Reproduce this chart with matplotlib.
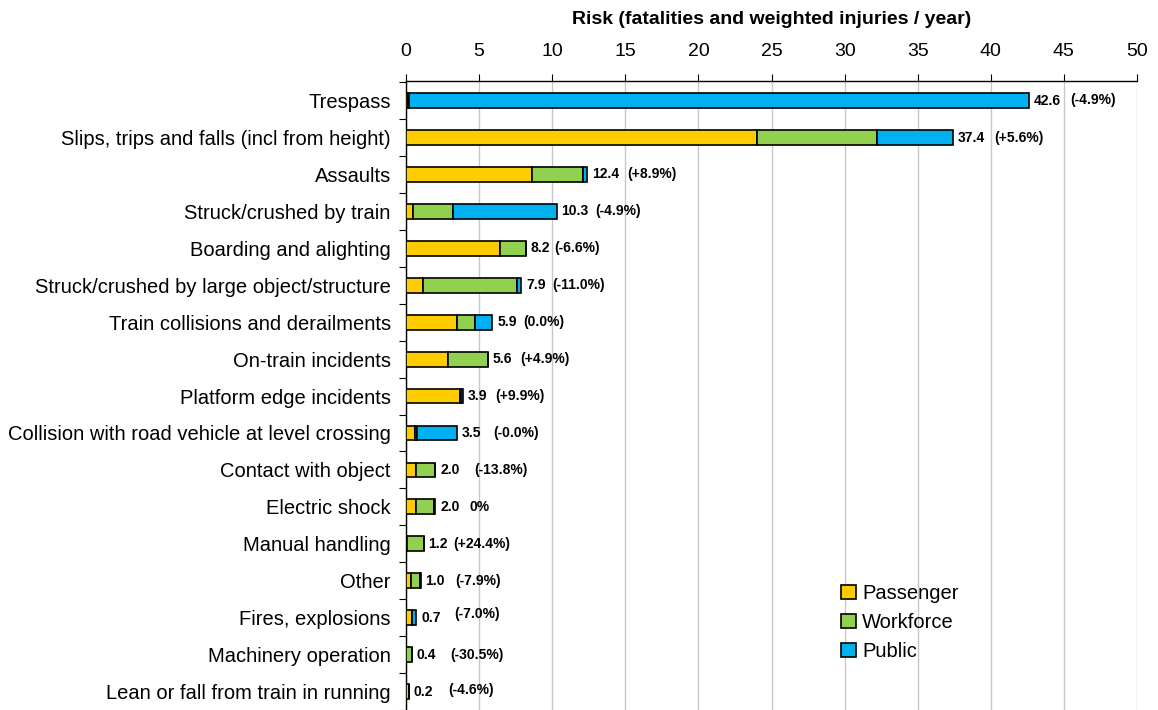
import matplotlib
matplotlib.use("Agg")
import matplotlib.pyplot as plt
from matplotlib.transforms import offset_copy

plt.rcParams['font.family'] = ['Liberation Sans', 'DejaVu Sans']

categories = [
    "Trespass",
    "Slips, trips and falls (incl from height)",
    "Assaults",
    "Struck/crushed by train",
    "Boarding and alighting",
    "Struck/crushed by large object/structure",
    "Train collisions and derailments",
    "On-train incidents",
    "Platform edge incidents",
    "Collision with road vehicle at level crossing",
    "Contact with object",
    "Electric shock",
    "Manual handling",
    "Other",
    "Fires, explosions",
    "Machinery operation",
    "Lean or fall from train in running",
]
passenger = [0.15, 24.0, 8.6, 0.45, 6.4, 1.15, 3.5, 2.85, 3.7, 0.6, 0.68, 0.66, 0.05, 0.35, 0.38, 0.0, 0.2]
workforce = [0.05, 8.2, 3.5, 2.75, 1.8, 6.45, 1.25, 2.75, 0.05, 0.17, 1.32, 1.28, 1.15, 0.6, 0.05, 0.4, 0.0]
public = [42.4, 5.2, 0.3, 7.1, 0.0, 0.3, 1.15, 0.0, 0.15, 2.73, 0.0, 0.06, 0.0, 0.05, 0.27, 0.0, 0.0]
totals = ["42.6", "37.4", "12.4", "10.3", "8.2", "7.9", "5.9", "5.6", "3.9", "3.5", "2.0", "2.0", "1.2", "1.0", "0.7", "0.4", "0.2"]
changes = ["(-4.9%)", "(+5.6%)", "(+8.9%)", "(-4.9%)", "(-6.6%)", "(-11.0%)", "(0.0%)", "(+4.9%)", "(+9.9%)",
           "(-0.0%)", "(-13.8%)", "0%", "(+24.4%)", "(-7.9%)", "(-7.0%)", "(-30.5%)", "(-4.6%)"]
series_names = ["Passenger", "Workforce", "Public"]
xticks = [0, 5, 10, 15, 20, 25, 30, 35, 40, 45, 50]

# label layout (pixel offsets for the change label relative to bar end, vertical nudges)
pct_dx = [41, 41, 40, 39, 28, 31, 31, 32, 32, 36, 39, 34, 30, 35, 38, 38, 39]
pct_dy = [1, 0, 0, 0, 0, 0, 0, 0, 0, 0, 0, 0, 0, 0, 4, 0, 2]

colors = ["#FFCC00", "#92D050", "#00B0F0"]

fig = plt.figure(figsize=(11.58, 7.10), dpi=100)
ax = fig.add_axes([406/1158, 0.0, (1137-406)/1158, 1 - 81/710])

y = list(range(len(categories)))
left = [0.0] * len(categories)
for vals, col, name in zip([passenger, workforce, public], colors, series_names):
    ax.barh(y, vals, left=left, height=0.4, color=col, edgecolor="black", linewidth=1.2, label=name, zorder=3)
    left = [l + v for l, v in zip(left, vals)]

for i in y:
    tr = offset_copy(ax.transData, fig=fig, x=5, y=0, units='dots')
    ax.text(left[i], i, totals[i], transform=tr, ha='left', va='center', fontsize=10, fontweight='bold', zorder=4)
    tr2 = offset_copy(ax.transData, fig=fig, x=pct_dx[i], y=pct_dy[i], units='dots')
    ax.text(left[i], i, changes[i], transform=tr2, ha='left', va='center', fontsize=10, fontweight='bold', zorder=4)

ax.set_xlim(0, 50)
ax.set_ylim(16.35, -0.53)
ax.xaxis.tick_top()
ax.xaxis.set_label_position('top')
ax.set_xticks(xticks)
ax.set_xticklabels([str(t) for t in xticks], fontsize=14)
ax.tick_params(axis='x', direction='out', length=5, pad=10, color='black')
ax.set_xlabel("Risk (fatalities and weighted injuries / year)", fontsize=14, fontweight='bold', labelpad=14)
ax.grid(axis='x', color='#C8C8C8', linewidth=1.0, zorder=0)

ax.set_yticks([i + 0.5 for i in range(-1, len(categories))])
ax.set_yticklabels([])
ax.set_yticks(y, minor=True)
ax.set_yticklabels(categories, minor=True, fontsize=14.5)
ax.tick_params(axis='y', which='major', direction='out', length=5, color='black')
ax.tick_params(axis='y', which='minor', length=0, pad=11)

for s in ['right', 'bottom']:
    ax.spines[s].set_visible(False)
ax.spines['left'].set_linewidth(1.0)
ax.spines['top'].set_linewidth(1.0)

leg = ax.legend(loc='upper left', bbox_to_anchor=((841-406)/731, 1 - (584-81)/629), frameon=False,
                fontsize=14.5, handlelength=0.75, handleheight=0.75, handletextpad=0.3, labelspacing=0.5,
                borderaxespad=0, borderpad=0)

fig.savefig("out.png", dpi=100)
